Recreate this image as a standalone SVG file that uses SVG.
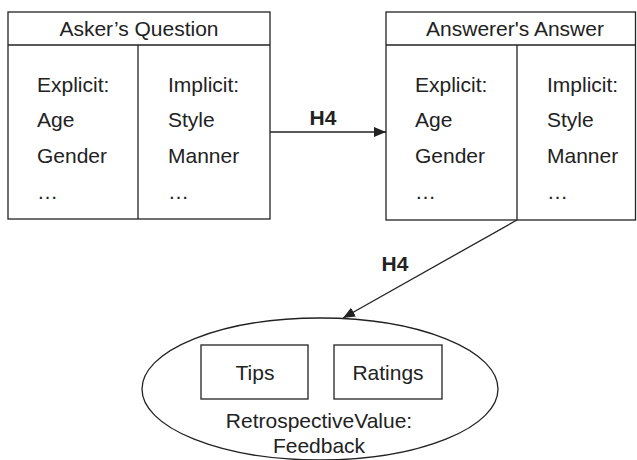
<svg xmlns="http://www.w3.org/2000/svg" width="637" height="460" viewBox="0 0 637 460">
<defs>
<style>
text{font-family:"Liberation Sans",Arial,sans-serif;font-size:21px;fill:#222}
.b{font-weight:bold}
.m{text-anchor:middle}
.s{fill:none;stroke:#222;stroke-width:1.3}
</style>
<marker id="ah" viewBox="0 0 12 10" refX="12" refY="5" markerWidth="12" markerHeight="10" markerUnits="userSpaceOnUse" orient="auto">
<path d="M0,0 L12,5 L0,10 Z" fill="#222"/>
</marker>
</defs>
<rect width="637" height="460" fill="#fff"/>
<g id="asker">
<rect class="s" x="8" y="12" width="262" height="207"/>
<line class="s" x1="8" y1="45" x2="270" y2="45"/>
<line class="s" x1="138" y1="45" x2="138" y2="219"/>
<text class="m" x="139" y="36">Asker’s Question</text>
<text x="37" y="92">Explicit:</text>
<text x="37" y="127">Age</text>
<text x="37" y="163">Gender</text>
<text x="37" y="199">…</text>
<text x="168" y="92">Implicit:</text>
<text x="168" y="127">Style</text>
<text x="168" y="163">Manner</text>
<text x="168" y="199">…</text>
</g>
<g id="answerer">
<rect class="s" x="386" y="12" width="249.5" height="208"/>
<line class="s" x1="386" y1="45" x2="635.5" y2="45"/>
<line class="s" x1="517" y1="45" x2="517" y2="220"/>
<text class="m" x="515" y="36">Answerer's Answer</text>
<text x="415" y="92">Explicit:</text>
<text x="415" y="127">Age</text>
<text x="415" y="163">Gender</text>
<text x="415" y="199">…</text>
<text x="547" y="92">Implicit:</text>
<text x="547" y="127">Style</text>
<text x="547" y="163">Manner</text>
<text x="547" y="199">…</text>
</g>
<g id="feedback">
<ellipse class="s" cx="320" cy="389" rx="178" ry="71"/>
<rect class="s" x="201" y="345" width="107" height="54"/>
<rect class="s" x="334" y="345" width="108" height="54"/>
<text class="m" x="255" y="380">Tips</text>
<text class="m" x="388" y="380">Ratings</text>
<text class="m" x="319" y="428">RetrospectiveValue:</text>
<text class="m" x="319" y="453">Feedback</text>
</g>
<g id="connectors">
<line class="s" x1="270" y1="132" x2="386" y2="132" marker-end="url(#ah)"/>
<text class="b m" x="323" y="125">H4</text>
<line class="s" x1="517" y1="220" x2="343" y2="318" marker-end="url(#ah)"/>
<text class="b m" x="395" y="271">H4</text>
</g>
</svg>
